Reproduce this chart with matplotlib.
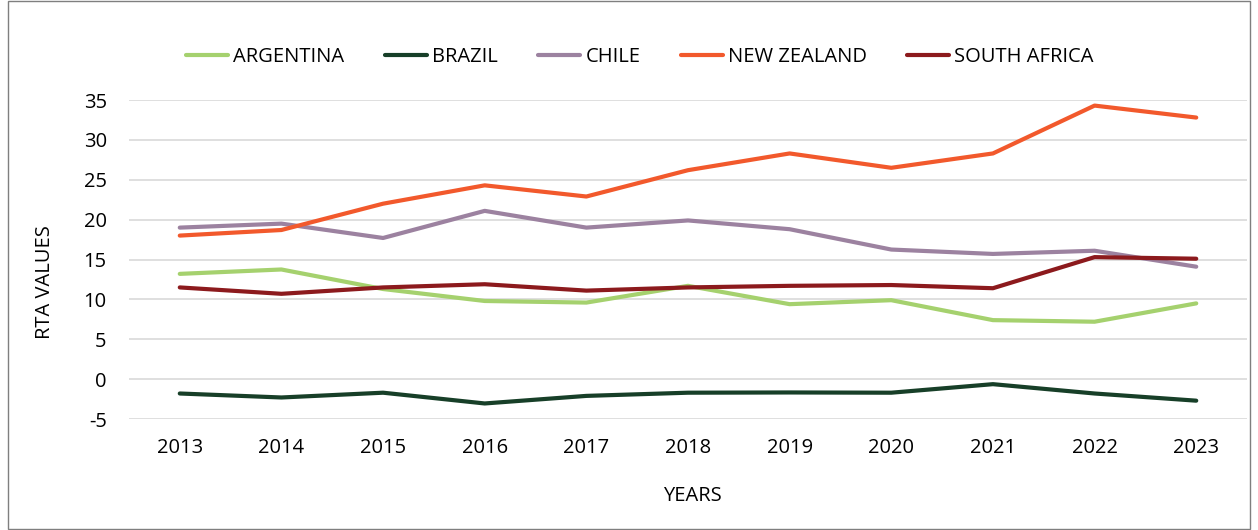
import matplotlib.pyplot as plt
from matplotlib.patches import Rectangle

years = [2013, 2014, 2015, 2016, 2017, 2018, 2019, 2020, 2021, 2022, 2023]
argentina = [13.2, 13.75, 11.3, 9.8, 9.6, 11.7, 9.4, 9.9, 7.4, 7.2, 9.5]
brazil = [-1.8, -2.3, -1.7, -3.05, -2.1, -1.7, -1.67, -1.7, -0.63, -1.8, -2.7]
chile = [19.0, 19.5, 17.7, 21.1, 19.0, 19.9, 18.8, 16.25, 15.7, 16.1, 14.1]
new_zealand = [18.0, 18.7, 22.0, 24.3, 22.9, 26.2, 28.3, 26.5, 28.3, 34.3, 32.8]
south_africa = [11.5, 10.7, 11.5, 11.9, 11.1, 11.5, 11.7, 11.8, 11.4, 15.3, 15.1]

series = [
    ("ARGENTINA", argentina, "#a5d16e"),
    ("BRAZIL", brazil, "#173f28"),
    ("CHILE", chile, "#9c82a0"),
    ("NEW ZEALAND", new_zealand, "#f2592c"),
    ("SOUTH AFRICA", south_africa, "#8c1a1d"),
]

plt.rcParams['font.family'] = ['Open Sans', 'DejaVu Sans']
plt.rcParams['axes.unicode_minus'] = False

fig = plt.figure(figsize=(12.58, 5.3), dpi=100)
ax = fig.add_axes([0.1025, 0.2094, 0.8888, 0.6019])

for name, vals, col in series:
    ax.plot(years, vals, color=col, linewidth=3, label=name, solid_capstyle='round')

ax.set_xlim(2012.5, 2023.5)
ax.set_ylim(-5, 35)
ax.set_xticks(years)
ax.set_yticks(range(-5, 36, 5))
ax.tick_params(axis='both', length=0, labelsize=14.5, colors='black')
ax.tick_params(axis='y', pad=16)
ax.tick_params(axis='x', pad=14)
ax.grid(axis='y', color='#d9d9d9', linewidth=1.2)
ax.set_axisbelow(True)
for s in ax.spines.values():
    s.set_visible(False)

ax.set_xlabel("YEARS", fontsize=14.5)
ax.set_ylabel("RTA VALUES", fontsize=14.5)
ax.xaxis.set_label_coords(0.5036, -0.21)
ax.yaxis.set_label_coords(-0.066, 0.43)

ax.legend(loc='center', bbox_to_anchor=(0.457, 1.136), ncol=5, frameon=False,
          fontsize=14.5, handlelength=2.1, handletextpad=0.25, columnspacing=2.0)

fig.patches.append(Rectangle((0.006, 0.002), 0.988, 0.996, transform=fig.transFigure,
                             fill=False, edgecolor='#7f7f7f', linewidth=1))

fig.savefig("out.png", dpi=100)
